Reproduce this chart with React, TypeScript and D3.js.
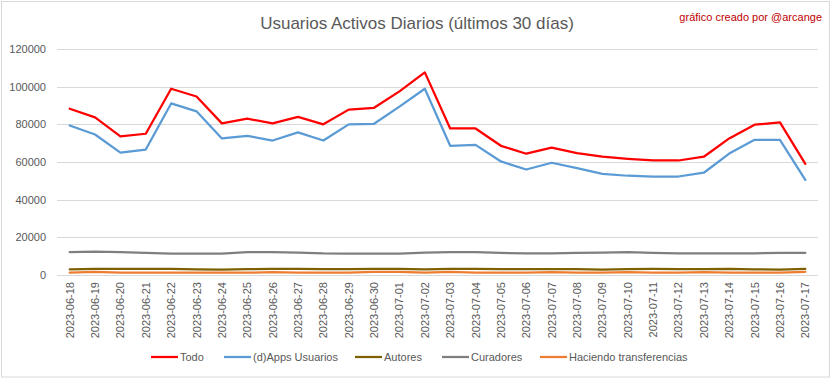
import React from "react";
import * as d3 from "d3";

const dates = [
  "2023-06-18","2023-06-19","2023-06-20","2023-06-21","2023-06-22","2023-06-23","2023-06-24","2023-06-25","2023-06-26","2023-06-27",
  "2023-06-28","2023-06-29","2023-06-30","2023-07-01","2023-07-02","2023-07-03","2023-07-04","2023-07-05","2023-07-06","2023-07-07",
  "2023-07-08","2023-07-09","2023-07-10","2023-07-11","2023-07-12","2023-07-13","2023-07-14","2023-07-15","2023-07-16","2023-07-17",
];

const todo = [88300, 83700, 73600, 75000, 98900, 94800, 80500, 83000, 80500, 84000,
  80000, 87800, 88800, 97500, 107600, 77800, 77800, 68600, 64400, 67600,
  64700, 62800, 61700, 60800, 60800, 62800, 72500, 79800, 81000, 59000];

const dapps = [79400, 74600, 65000, 66600, 91100, 86900, 72500, 73900, 71400, 75700,
  71400, 80000, 80300, 89400, 98900, 68600, 69100, 60300, 56000, 59600,
  56700, 53700, 52700, 52300, 52300, 54300, 64500, 71800, 71800, 50500];

const autores = [3000, 3200, 3300, 3200, 3200, 3000, 2900, 3100, 3200, 3200,
  3100, 3100, 3200, 3200, 3000, 3200, 3200, 3100, 3100, 3100,
  3100, 2900, 3100, 3200, 3100, 3100, 3200, 3000, 2900, 3200];

const curadores = [12100, 12400, 12100, 11700, 11400, 11400, 11400, 12200, 12200, 11900,
  11500, 11400, 11400, 11400, 11900, 12200, 12100, 11700, 11500, 11500,
  11700, 11900, 12100, 11700, 11500, 11500, 11500, 11500, 11700, 11700];

const transferencias = [1300, 1600, 1300, 1300, 1300, 1300, 1300, 1200, 1500, 1300,
  1300, 1300, 1600, 1600, 1300, 1600, 1300, 1300, 1300, 1500,
  1300, 1200, 1500, 1300, 1300, 1500, 1300, 1300, 1300, 1700];

const yTicks = [0, 20000, 40000, 60000, 80000, 100000, 120000];

const seriesNames = ["Todo", "(d)Apps Usuarios", "Autores", "Curadores", "Haciendo transferencias"];
const seriesColors = ["#FF0000", "#5B9BD5", "#7F6000", "#7F7F7F", "#ED7D31"];
const seriesValues = [todo, dapps, autores, curadores, transferencias];

const W = 833;
const H = 379;
const left = 57;
const right = 818;
const top = 49;
const bottom = 275;

const FONT = "'Liberation Sans', Arial, sans-serif";

export default function App() {
  const x = d3.scaleBand<string>().domain(dates).range([left, right]);
  const y = d3.scaleLinear().domain([0, 120000]).range([bottom, top]);
  const cx = (d: string) => (x(d) as number) + x.bandwidth() / 2;

  const line = (vals: number[]) =>
    d3.line<number>().x((_, i) => cx(dates[i])).y((v) => y(v))(vals) as string;

  const drawOrder = [4, 2, 3, 1, 0];

  const legendItems = [
    { lx: 151, tx: 180 },
    { lx: 224, tx: 253 },
    { lx: 355, tx: 384 },
    { lx: 442, tx: 471 },
    { lx: 540, tx: 569 },
  ];
  const legendY = 357;

  return (
    <svg width={W} height={H} style={{ position: "absolute", left: 0, top: 0, background: "#fff" }} fontFamily={FONT}>
      <rect x={0} y={0} width={W} height={H} fill="#ffffff" />
      <rect x={1.5} y={1.5} width={828} height={375.5} fill="none" stroke="#d9d9d9" strokeWidth={1} />

      <text x={417} y={29} textAnchor="middle" fontSize={17} fill="#595959">
        Usuarios Activos Diarios (últimos 30 días)
      </text>
      <text x={822} y={21} textAnchor="end" fontSize={11} fill="#C00000">
        gráfico creado por @arcange
      </text>

      {yTicks.map((t) => (
        <g key={t}>
          <line x1={left} x2={right} y1={Math.round(y(t)) + 0.5} y2={Math.round(y(t)) + 0.5} stroke="#d9d9d9" strokeWidth={1} />
          <text x={46} y={y(t) + 4} textAnchor="end" fontSize={11} fill="#595959">
            {t}
          </text>
        </g>
      ))}

      {dates.map((d) => (
        <text
          key={d}
          transform={`translate(${cx(d) + 4},${282}) rotate(-90)`}
          textAnchor="end"
          fontSize={11}
          fill="#595959"
        >
          {d}
        </text>
      ))}

      {drawOrder.map((si) => (
        <path
          key={seriesNames[si]}
          d={line(seriesValues[si])}
          fill="none"
          stroke={seriesColors[si]}
          strokeWidth={2.25}
          strokeLinejoin="round"
          strokeLinecap="round"
        />
      ))}

      {seriesNames.map((n, i) => (
        <g key={n}>
          <line x1={legendItems[i].lx} x2={legendItems[i].lx + 27} y1={legendY} y2={legendY} stroke={seriesColors[i]} strokeWidth={2.25} />
          <text x={legendItems[i].tx} y={legendY + 4} fontSize={11} fill="#595959">
            {n}
          </text>
        </g>
      ))}
    </svg>
  );
}
